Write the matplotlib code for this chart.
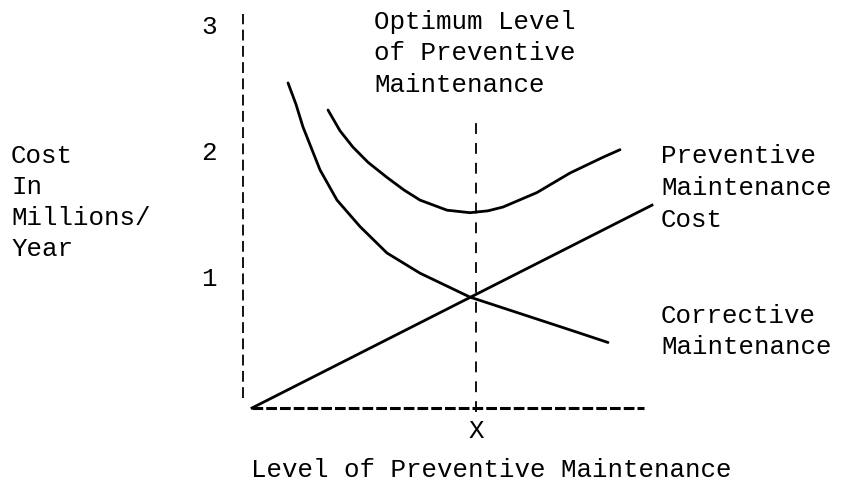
import matplotlib.pyplot as plt

# level of preventive maintenance (arbitrary units) and cost in millions/year
prev_level = [0.0, 10.0]
prev_cost = [0.0, 1.61]

corr_level = [0.9, 1.1, 1.275, 1.5, 1.7, 2.125, 2.7, 3.375, 4.2, 5.45, 6.7, 7.95, 8.9]
corr_cost = [2.58, 2.41, 2.23, 2.05, 1.89, 1.65, 1.44, 1.23, 1.07, 0.88, 0.75, 0.62, 0.52]

total_level = [1.9, 2.2, 2.525, 2.9, 3.375, 3.8, 4.2, 4.875, 5.45, 5.9, 6.275, 7.125, 7.95, 8.775, 9.2]
total_cost = [2.365, 2.2, 2.07, 1.95, 1.83, 1.73, 1.65, 1.57, 1.55, 1.565, 1.595, 1.71, 1.865, 1.99, 2.05]

optimum_level = 5.6
base_end = 9.8
y_ticks = [1, 2, 3]

W, H = 843, 486
fig = plt.figure(figsize=(W / 100, H / 100), dpi=100)
ax = fig.add_axes([0, 0, 1, 1])
# 40 px per level unit, 126 px per million
ax.set_xlim((0 - 252) / 40, (W - 252) / 40)
ax.set_ylim((408 - H) / 126, 408 / 126)
ax.axis('off')

font = dict(family='Liberation Mono', fontsize=18.6, color='black')

# dashed cost axis and level axis
ax.plot([-0.225, -0.225], [0.08, 3.13], color='black', lw=1.3, dashes=(6, 3))
ax.plot([0, base_end], [0, 0], color='black', lw=2.2, dashes=(3.5, 1))

# optimum marker
ax.plot([optimum_level, optimum_level], [-0.03, 2.28], color='black', lw=1.3, dashes=(6, 5))

ax.plot(prev_level, prev_cost, color='black', lw=2)
ax.plot(corr_level, corr_cost, color='black', lw=2, solid_capstyle='round')
ax.plot(total_level, total_cost, color='black', lw=2, solid_capstyle='round')

for v in y_ticks:
    ax.text(-1.07, v + 0.02, str(v), ha='center', va='center', **font)


def ftext(px, py, s, **kw):
    fig.text(px / W, 1 - py / H, s, va='center', **kw, **font)


for i, s in enumerate(['Cost', 'In', 'Millions/', 'Year']):
    ftext(11, 156 + 31 * i, s, ha='left')

for i, s in enumerate(['Optimum Level', 'of Preventive', 'Maintenance']):
    ftext(374, 22 + 31.5 * i, s, ha='left')

for i, s in enumerate(['Preventive', 'Maintenance', 'Cost']):
    ftext(661, 156 + 32 * i, s, ha='left')

for i, s in enumerate(['Corrective', 'Maintenance']):
    ftext(661, 316 + 31 * i, s, ha='left')

ax.text(optimum_level, (408 - 431) / 126, 'X', ha='center', va='center', **font)
ftext(251, 470, 'Level of Preventive Maintenance', ha='left')

fig.savefig('out.png', dpi=100, facecolor='white')
